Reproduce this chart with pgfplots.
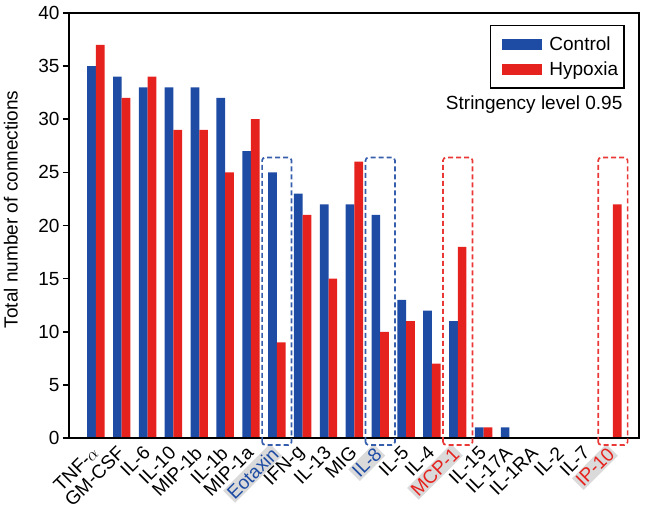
\documentclass[border=0pt]{standalone}
\usepackage{fontspec}
\setmainfont{Liberation Sans}
\usepackage{pgfplots}
\pgfplotsset{compat=1.18}

\definecolor{ctrl}{RGB}{30,76,164}
\definecolor{hyp}{RGB}{230,34,30}
\definecolor{hlgray}{RGB}{218,218,218}
\newcommand{\hl}[2]{{\setlength{\fboxsep}{1.5pt}\colorbox{hlgray}{\textcolor{#1}{#2}}}}

\begin{document}
\begin{tikzpicture}
\begin{axis}[
    name=ax,
    scale only axis, width=570pt, height=425pt,
    xmin=-1.04, xmax=21.01, ymin=0, ymax=40,
    ybar=0pt, bar width=8.7pt,
    font=\fontsize{19}{23}\selectfont,
    /pgf/number format/assume math mode=true,
    axis line style={line width=1.2pt},
    xtick={0,...,20},
    xtick style={draw=none},
    xticklabels={TNF-$\alpha$, GM-CSF, IL-6, IL-10, MIP-1b, IL-1b, MIP-1a,
        \hl{ctrl}{Eotaxin}, IFN-g, IL-13, MIG, \hl{ctrl}{IL-8}, IL-5, IL-4,
        \hl{hyp}{MCP-1}, IL-15, IL-17A, IL-1RA, IL-2, IL-7, \hl{hyp}{IP-10}},
    xticklabel style={rotate=45, anchor=east, inner sep=1pt},
    xticklabel shift=5pt,
    ytick={0,5,...,40},
    ytick pos=left,
    tick align=outside,
    major tick length=6pt,
    ytick style={line width=1.5pt, black},
    ylabel={Total number of connections},
    ylabel style={at={(axis description cs:-0.102,0.538)}, anchor=center},
    legend style={at={(rel axis cs:0.975,0.972)}, anchor=north east,
        draw=black, line width=1.3pt, inner xsep=4pt, inner ysep=9pt,
        row sep=6pt, cells={anchor=west}, font=\fontsize{19}{23}\selectfont},
    legend image code/.code={
        \path[#1, draw=none] (0pt,-5.5pt) rectangle (40pt,5.5pt);
        \path (-8pt,0pt) (45pt,0pt);},
    clip=false,
]
\addplot[fill=ctrl, draw=none] coordinates {
    (0,35) (1,34) (2,33) (3,33) (4,33) (5,32) (6,27) (7,25) (8,23) (9,22)
    (10,22) (11,21) (12,13) (13,12) (14,11) (15,1) (16,1) (17,0) (18,0) (19,0) (20,0)
};
\addlegendentry{Control}
\addplot[fill=hyp, draw=none] coordinates {
    (0,37) (1,32) (2,34) (3,29) (4,29) (5,25) (6,30) (7,9) (8,21) (9,15)
    (10,26) (11,10) (12,11) (13,7) (14,18) (15,1) (16,0) (17,0) (18,0) (19,0) (20,22)
};
\addlegendentry{Hypoxia}

% thicker left and bottom axis lines
\draw[line width=2.3pt, line cap=rect] (rel axis cs:0,1) -- (rel axis cs:0,0) -- (rel axis cs:1,0);

% dashed highlight boxes
\begin{scope}[line width=1.7pt, dash pattern=on 5pt off 3pt, rounded corners=3pt]
    \draw[ctrl!90] (axis cs:6.43,-0.65) rectangle (axis cs:7.57,26.4);
    \draw[ctrl!90] (axis cs:10.43,-0.65) rectangle (axis cs:11.57,26.4);
    \draw[hyp!90] (axis cs:13.43,-0.65) rectangle (axis cs:14.57,26.4);
    \draw[hyp!90] (axis cs:19.43,-0.65) rectangle (axis cs:20.57,26.4);
\end{scope}

\node[anchor=base east] at (rel axis cs:0.977,0.772) {Stringency level 0.95};
\end{axis}
\pgfresetboundingbox
\path (ax.south west) ++(-69pt,-74pt) rectangle ([xshift=6pt,yshift=13pt]ax.north east);
\end{tikzpicture}
\end{document}
